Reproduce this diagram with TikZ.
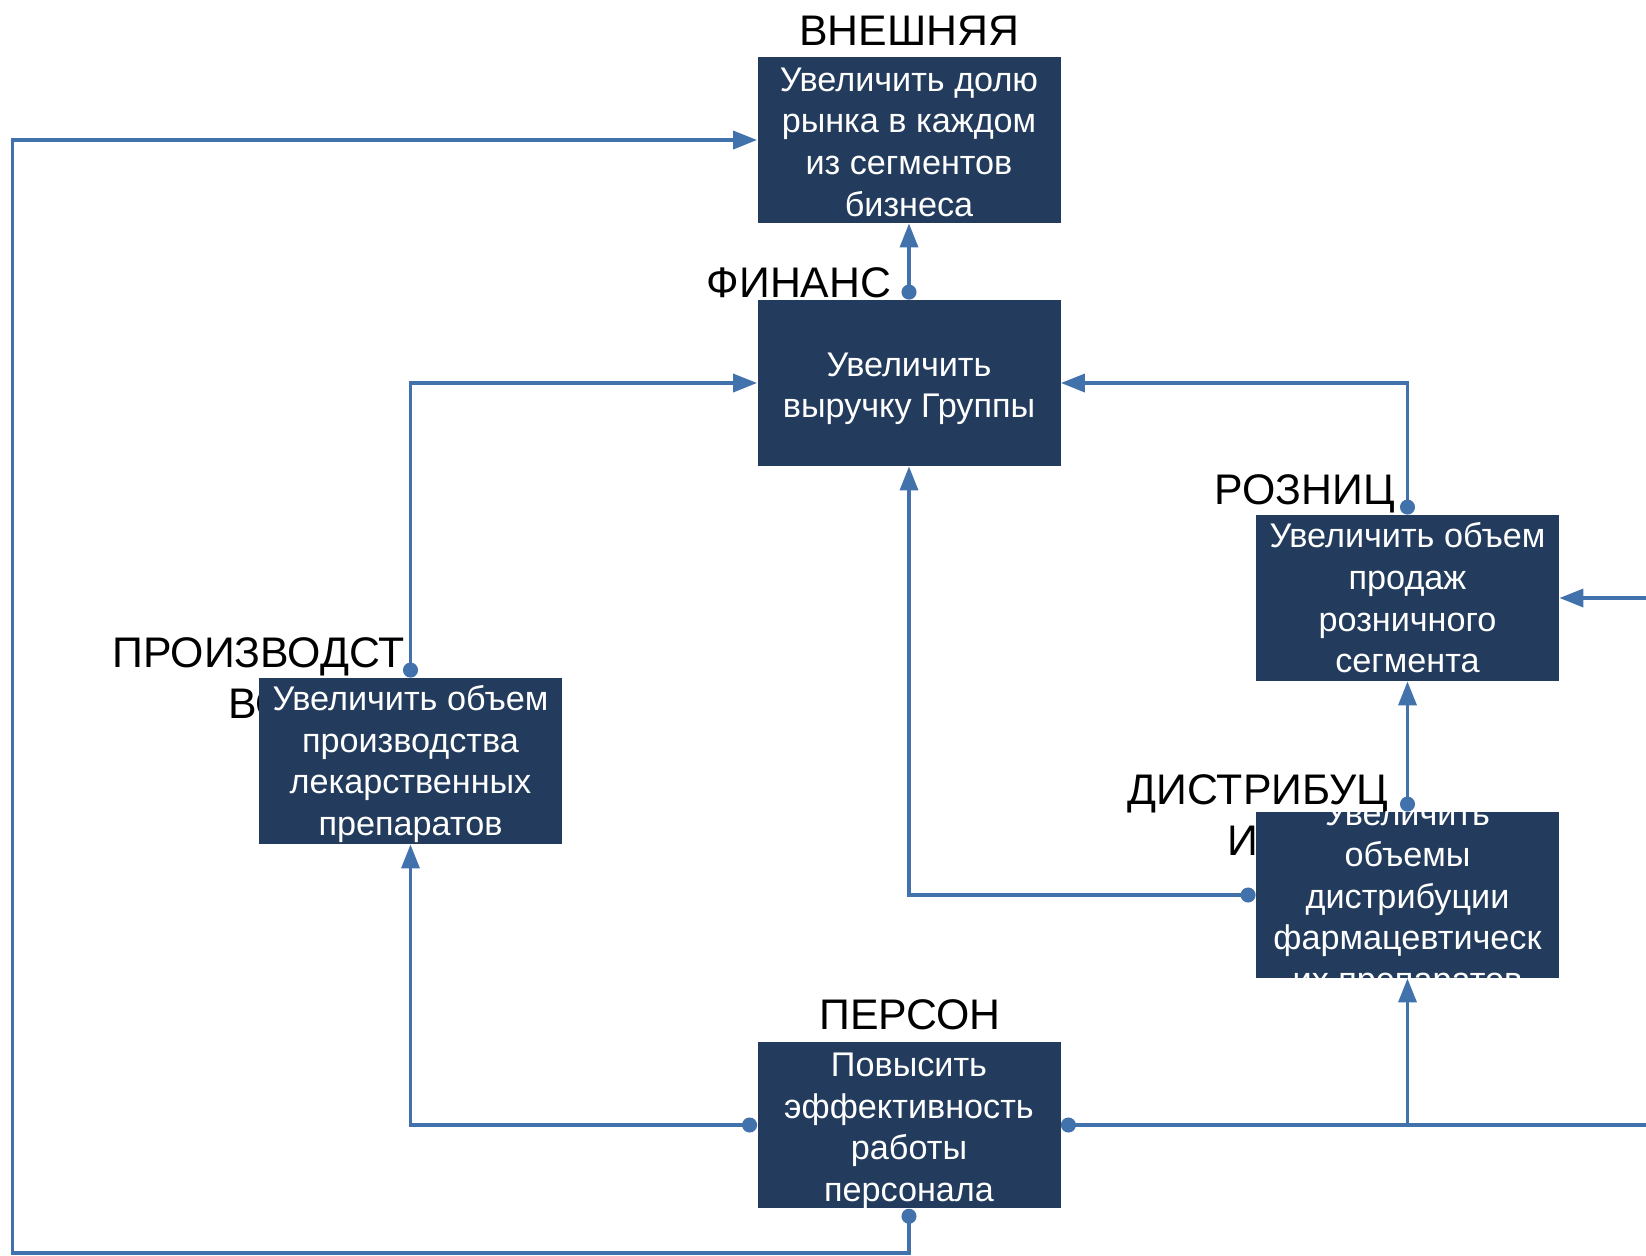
\documentclass[tikz,border=0pt]{standalone}
\usepackage{fontspec}
\setmainfont{Liberation Sans}
\usetikzlibrary{arrows.meta}
\definecolor{lnblue}{RGB}{66,114,172}
\definecolor{boxnavy}{RGB}{35,60,93}
\newcommand{\topgap}[1]{\rule{0pt}{#1}}
\begin{document}
\begin{tikzpicture}[x=0.5pt,y=-0.5pt,
  goal/.style={fill=boxnavy, text=white, minimum width=151.5pt, minimum height=83pt, inner sep=0pt, align=center, font=\fontsize{17.1}{20.8}\selectfont},
  goalbg/.style={fill=boxnavy, minimum width=151.5pt, minimum height=83pt, inner sep=0pt},
  boxtext/.style={text=white, inner sep=0pt, align=center, font=\fontsize{17.1}{20.8}\selectfont},
  lbl/.style={font=\fontsize{21.4}{25.5}\selectfont, inner sep=0pt, align=center},
  conn/.style={draw=lnblue, line width=1.75pt},
  arr/.style={conn, -{Triangle[length=12pt,width=9pt]}},
  dotarr/.style={conn, {Circle[length=7.5pt]}-{Triangle[length=12pt,width=9pt]}},
  dotline/.style={conn, {Circle[length=7.5pt]}-},
]
\useasboundingbox (0,0) rectangle (1646,1255);

% labels
\node[lbl, anchor=base] (lext) at (909,45) {ВНЕШНЯЯ};
\node[lbl, anchor=base] (lfin) at (799,297) {ФИНАНС};
\node[lbl, anchor=base] (lret) at (1305,504) {РОЗНИЦ};
\node[lbl, anchor=base] (lpro) at (258.5,718) {ПРОИЗВОДСТ\\ВО};
\node[lbl, anchor=base] (ldis) at (1258,855) {ДИСТРИБУЦ\\ИЯ};
\node[lbl, anchor=base] (lper) at (910,1029) {ПЕРСОН};

% boxes
\node[goal] (b1) at (909,140) {\topgap{13.9pt}Увеличить долю\\рынка в каждом\\из сегментов\\бизнеса};
\node[goal] (b2) at (909,383) {\topgap{17.4pt}Увеличить\\выручку Группы};
\node[goal] (b3) at (1407.5,598) {Увеличить объем\\продаж\\розничного\\сегмента};
\node[goalbg] (b4) at (1407.5,895) {};
\begin{scope}
  \clip (b4.south west) rectangle (b4.north east);
  \node[boxtext] (b4t) at (1407.5,900) {Увеличить\\объемы\\дистрибуции\\фармацевтическ\\их препаратов};
\end{scope}
\node[goal] (b5) at (410.5,761) {\topgap{15.4pt}Увеличить объем\\производства\\лекарственных\\препаратов};
\node[goal] (b6) at (909,1125) {\topgap{17.4pt}Повысить\\эффективность\\работы\\персонала};

% free ends
\coordinate (redge3) at (1646,598);
\coordinate (redge6) at (1646,1125);
\coordinate (bl) at (12.5,1253);

% connectors
\draw[dotarr] (b2.north) -- (b2.north |- b1.south);
\draw[dotarr] (b5.north) |- (b2.west);
\draw[dotarr] (b3.north) |- (b2.east);
\draw[dotarr] (b4.west) -| (b2.south);
\draw[dotarr] (b4.north) -- (b3.south);
\draw[dotarr] (b6.west) -| (b5.south);
\draw[dotline] (b6.east) -- (redge6);
\draw[arr] (b6.east -| b4.south) -- (b4.south);
\draw[arr] (redge3) -- (b3.east);
\draw[dotarr] (b6.south) |- (bl) |- (b1.west);
\end{tikzpicture}
\end{document}
